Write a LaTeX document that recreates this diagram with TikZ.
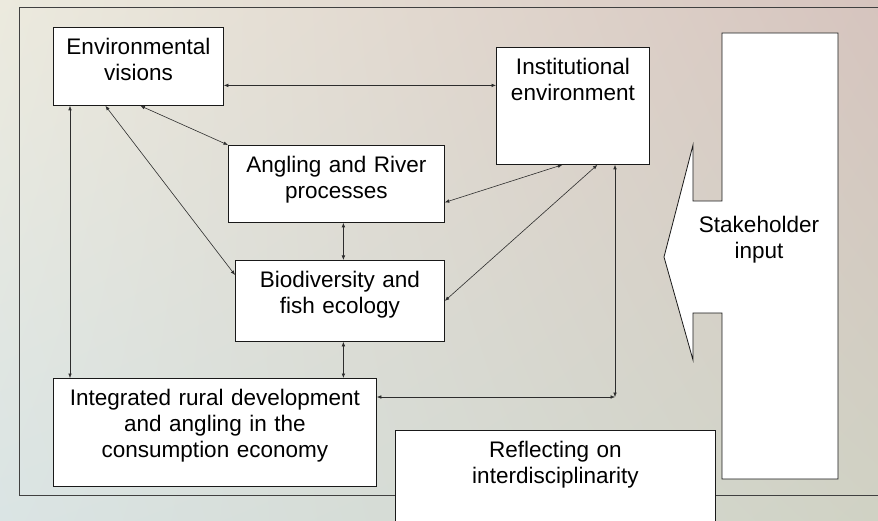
\documentclass[tikz,border=0pt]{standalone}
\usepackage{fontspec}
\setmainfont{Liberation Sans}
\usetikzlibrary{arrows.meta,calc,shadings}
\newcommand{\boxfont}{\fontsize{22.5pt}{26pt}\selectfont}
\definecolor{bgTL}{RGB}{236,234,222}
\definecolor{bgTR}{RGB}{214,196,190}
\definecolor{bgBL}{RGB}{218,228,228}
\definecolor{bgBR}{RGB}{208,210,196}
\definecolor{linkgray}{RGB}{45,45,45}
\begin{document}
\begin{tikzpicture}[x=1pt, y=-1pt,
  every node/.style={font=\boxfont},
  box/.style={draw=black!90, line width=0.8pt, fill=white, inner sep=0pt,
    align=center, text height=27pt, anchor=north west},
  link/.style={draw=linkgray, line width=0.6pt,
    {Latex[length=4.5pt,width=3.6pt]}-{Latex[length=4.5pt,width=3.6pt]}}]
  \useasboundingbox (0,0) rectangle (878,521);
  \clip (0,0) rectangle (878,521);
  \shade[upper left=bgTL, upper right=bgTR, lower left=bgBL, lower right=bgBR]
    (0,0) rectangle (878,521);
  \draw[black!75, line width=0.9pt] (19,7) rectangle (900,495);
  \node[box, text width=170pt, text depth=51pt] (env) at (53,27) {Environmental\\visions};
  \node[box, text width=216pt, text depth=50pt] (ang) at (228,145) {Angling and River\\processes};
  \node[box, text width=153pt, text depth=90pt] (inst) at (496,47) {Institutional\\environment};
  \node[box, text width=209pt, text depth=54pt] (bio) at (235,260) {Biodiversity and\\fish ecology};
  \node[box, text width=323pt, text depth=81pt] (intg) at (53,378) {Integrated rural development\\and angling in the\\consumption economy};
  \node[box, text width=320pt, text depth=100pt] (refl) at (395,430) {Reflecting on\\interdisciplinarity};
  \draw[black!90, line width=0.8pt, fill=white] (722,33) -- (838,33) -- (838,479) -- (722,479)
    -- (722,313) -- (693,313) -- (693,360) -- (664,257) -- (693,145) -- (693,201) -- (722,201) -- cycle;
  \node[align=center, anchor=base] (stake) at (759,259) {Stakeholder\\input};
  \coordinate (meet) at (615,397);
  \draw[link] ([yshift=-19pt]env.east) -- ([yshift=-19pt]env.east -| inst.west);
  \draw[link] ([xshift=2pt]env.south) -- (ang.north west);
  \draw[link] ([xshift=-33pt]env.south) -- ([yshift=-15pt]bio.north west);
  \draw[link] ([xshift=17pt]env.south west) -- ([xshift=17pt]intg.north west);
  \draw[link] ([xshift=7pt]ang.south) -- ([xshift=7pt]ang.south |- bio.north);
  \draw[link] ([xshift=3.5pt]bio.south) -- ([xshift=3.5pt]bio.south |- intg.north);
  \draw[link] ([xshift=-10.5pt]inst.south) -- ([yshift=-18.5pt]ang.east);
  \draw[link] ([xshift=24.5pt]inst.south) -- (bio.east);
  \draw[link] (meet |- inst.south) -- (meet);
  \draw[link] (intg.east |- meet) -- (meet);
\end{tikzpicture}
\end{document}
